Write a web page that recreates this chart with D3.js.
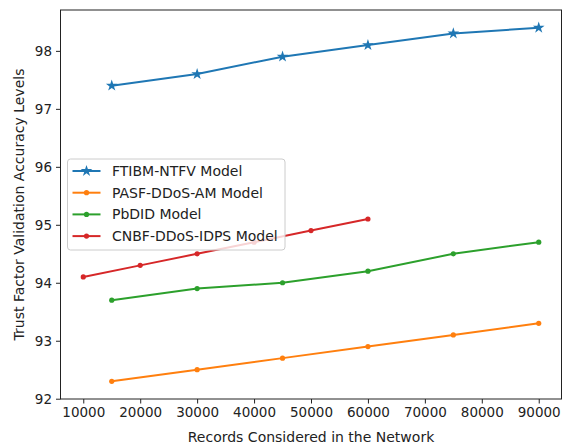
<!DOCTYPE html>
<html>
<head>
<meta charset="utf-8">
<script src="https://cdn.jsdelivr.net/npm/d3@7"></script>
<style>
  body { margin: 0; background: #fff; }
  text { font-family: "DejaVu Sans", sans-serif; fill: #222; }
</style>
</head>
<body>
<svg width="563" height="448"></svg>
<script>
// Data
var xMain = [15000, 30000, 45000, 60000, 75000, 90000];
var xCnbf = [10000, 20000, 30000, 40000, 50000, 60000];
var ftibm = [97.4, 97.6, 97.9, 98.1, 98.3, 98.4];
var pasf = [92.3, 92.5, 92.7, 92.9, 93.1, 93.3];
var pbdid = [93.7, 93.9, 94.0, 94.2, 94.5, 94.7];
var cnbf = [94.1, 94.3, 94.5, 94.7, 94.9, 95.1];
var xTicks = [10000, 20000, 30000, 40000, 50000, 60000, 70000, 80000, 90000];
var yTicks = [92, 93, 94, 95, 96, 97, 98];

var series = [
  {name: "FTIBM-NTFV Model", xs: xMain, ys: ftibm, color: "#1f77b4", marker: "star"},
  {name: "PASF-DDoS-AM Model", xs: xMain, ys: pasf, color: "#ff7f0e", marker: "dot"},
  {name: "PbDID Model", xs: xMain, ys: pbdid, color: "#2ca02c", marker: "dot"},
  {name: "CNBF-DDoS-IDPS Model", xs: xCnbf, ys: cnbf, color: "#d62728", marker: "dot"}
];

var svg = d3.select("svg"),
  margin = {left: 60.5, right: 1.5, top: 10, bottom: 49},
  width = +svg.attr("width") - margin.left - margin.right,
  height = +svg.attr("height") - margin.top - margin.bottom;

var x = d3.scaleLinear().domain([6000, 94000]).range([0, width]);
var y = d3.scaleLinear().domain([91.995, 98.705]).range([height, 0]);

var g = svg.append("g").attr("transform", "translate(" + margin.left + "," + margin.top + ")");

// axes
var xAxis = g.append("g").attr("transform", "translate(0," + height + ")")
  .call(d3.axisBottom(x).tickValues(xTicks).tickFormat(d3.format("d")).tickSizeOuter(0).tickSize(4.5).tickPadding(4));
var yAxis = g.append("g")
  .call(d3.axisLeft(y).tickValues(yTicks).tickFormat(d3.format("d")).tickSizeOuter(0).tickSize(4.5).tickPadding(4));
[xAxis, yAxis].forEach(function(a) {
  a.selectAll("text").style("font-size", "13.5px").style("font-family", "DejaVu Sans").attr("fill", "#222");
  a.selectAll("line").attr("stroke", "#222");
  a.select(".domain").remove();
});

// frame
g.append("rect").attr("width", width).attr("height", height)
  .attr("fill", "none").attr("stroke", "#222").attr("stroke-width", 1);

var line = d3.line().x(function(d) { return x(d[0]); }).y(function(d) { return y(d[1]); });
var star = d3.symbol().type(d3.symbolStar).size(42);

series.forEach(function(s) {
  var pts = s.xs.map(function(v, i) { return [v, s.ys[i]]; });
  g.append("path").datum(pts).attr("d", line)
    .attr("fill", "none").attr("stroke", s.color).attr("stroke-width", 2);
  if (s.marker == "star") {
    g.selectAll(null).data(pts).enter().append("path")
      .attr("d", star)
      .attr("transform", function(d) { return "translate(" + x(d[0]) + "," + y(d[1]) + ")"; })
      .attr("fill", s.color);
  } else {
    g.selectAll(null).data(pts).enter().append("circle")
      .attr("cx", function(d) { return x(d[0]); })
      .attr("cy", function(d) { return y(d[1]); })
      .attr("r", 2.6).attr("fill", s.color);
  }
});

// legend
var lg = svg.append("g").attr("transform", "translate(67.5,159)");
lg.append("rect").attr("width", 217.5).attr("height", 91).attr("rx", 3)
  .attr("fill", "white").attr("fill-opacity", 0.8).attr("stroke", "#ccc");
series.forEach(function(s, i) {
  var yy = 12 + i * 21.7;
  lg.append("line").attr("x1", 5).attr("x2", 33).attr("y1", yy).attr("y2", yy)
    .attr("stroke", s.color).attr("stroke-width", 2);
  if (s.marker == "star") {
    lg.append("path").attr("d", star).attr("transform", "translate(19," + yy + ")").attr("fill", s.color);
  } else {
    lg.append("circle").attr("cx", 19).attr("cy", yy).attr("r", 2.6).attr("fill", s.color);
  }
  lg.append("text").attr("x", 44.5).attr("y", yy).attr("dy", "0.36em")
    .style("font-size", "14px").text(s.name);
});

// axis labels
svg.append("text").attr("x", margin.left + width / 2).attr("y", 442)
  .attr("text-anchor", "middle").style("font-size", "14px").text("Records Considered in the Network");
svg.append("text").attr("transform", "translate(24," + (margin.top + height / 2) + ") rotate(-90)")
  .attr("text-anchor", "middle").style("font-size", "14px").text("Trust Factor Validation Accuracy Levels");
</script>
</body>
</html>
